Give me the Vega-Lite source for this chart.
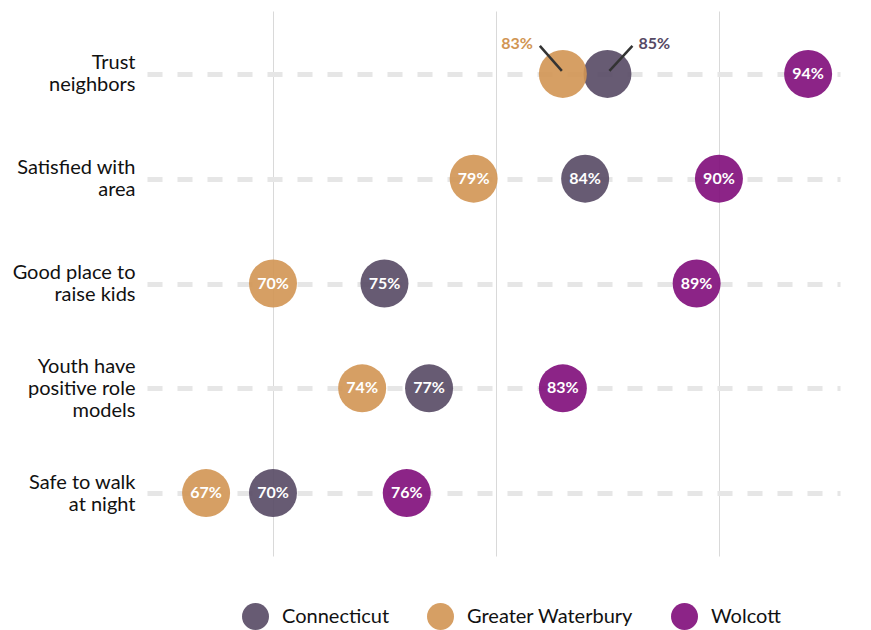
{
  "$schema": "https://vega.github.io/schema/vega-lite/v6.json",
  "width": 693,
  "height": 545,
  "autosize": {"type": "none"},
  "padding": {"left": 147, "top": 11, "right": 31, "bottom": 74},
  "background": "white",
  "config": {"view": {"stroke": null}, "font": "Lato"},
  "data": {
    "values": [
      {"q": "Trust neighbors", "group": "Connecticut", "value": 0.85},
      {"q": "Trust neighbors", "group": "Greater Waterbury", "value": 0.83},
      {"q": "Trust neighbors", "group": "Wolcott", "value": 0.94},
      {"q": "Satisfied with area", "group": "Connecticut", "value": 0.84},
      {"q": "Satisfied with area", "group": "Greater Waterbury", "value": 0.79},
      {"q": "Satisfied with area", "group": "Wolcott", "value": 0.90},
      {"q": "Good place to raise kids", "group": "Connecticut", "value": 0.75},
      {"q": "Good place to raise kids", "group": "Greater Waterbury", "value": 0.70},
      {"q": "Good place to raise kids", "group": "Wolcott", "value": 0.89},
      {"q": "Youth have positive role models", "group": "Connecticut", "value": 0.77},
      {"q": "Youth have positive role models", "group": "Greater Waterbury", "value": 0.74},
      {"q": "Youth have positive role models", "group": "Wolcott", "value": 0.83},
      {"q": "Safe to walk at night", "group": "Connecticut", "value": 0.70},
      {"q": "Safe to walk at night", "group": "Greater Waterbury", "value": 0.67},
      {"q": "Safe to walk at night", "group": "Wolcott", "value": 0.76}
    ]
  },
  "encoding": {
    "x": {
      "field": "value",
      "type": "quantitative",
      "scale": {"domain": [0.6435, 0.9543], "nice": false, "zero": false},
      "axis": {"values": [0.7, 0.8, 0.9], "labels": false, "ticks": false, "domain": false, "title": null, "grid": true, "gridColor": "#d9d9d9", "gridWidth": 1}
    },
    "y": {
      "field": "q",
      "type": "nominal",
      "sort": ["Trust neighbors", "Satisfied with area", "Good place to raise kids", "Youth have positive role models", "Safe to walk at night"],
      "scale": {"type": "point", "padding": 0.6},
      "axis": {
        "title": null,
        "domain": false,
        "ticks": false,
        "grid": true,
        "gridColor": "#e6e6e6",
        "gridWidth": 5,
        "gridDash": [15, 15],
        "labelFontSize": 20,
        "labelColor": "#111111",
        "labelPadding": 12,
        "labelLineHeight": 22,
        "labelBaseline": "middle",
        "labelOffset": {"condition": {"test": "datum.value == 'Youth have positive role models'", "value": -22}, "value": -11},
        "labelExpr": "datum.value == 'Trust neighbors' ? ['Trust','neighbors'] : datum.value == 'Satisfied with area' ? ['Satisfied with','area'] : datum.value == 'Good place to raise kids' ? ['Good place to','raise kids'] : datum.value == 'Youth have positive role models' ? ['Youth have','positive role','models'] : ['Safe to walk','at night']"
      }
    }
  },
  "layer": [
    {
      "mark": {"type": "point", "filled": true, "size": 2304, "opacity": 0.9},
      "encoding": {
        "color": {
          "field": "group",
          "type": "nominal",
          "scale": {"domain": ["Connecticut", "Greater Waterbury", "Wolcott"], "range": ["#564964", "#d19553", "#7f0c7a"]},
          "legend": {
            "title": null,
            "orient": "none",
            "legendX": 95,
            "legendY": 592,
            "direction": "horizontal",
            "symbolType": "circle",
            "symbolSize": 729,
            "symbolOpacity": 0.9,
            "symbolStrokeWidth": 0,
            "labelFontSize": 20,
            "labelLimit": 400,
            "labelColor": "#111111",
            "labelOffset": 13,
            "columnPadding": 37,
            "padding": 0
          }
        }
      }
    },
    {
      "transform": [{"filter": "!(datum.q === 'Trust neighbors' && datum.group !== 'Wolcott')"}],
      "mark": {"type": "text", "fontWeight": "bold", "fontSize": 16, "color": "white", "align": "center", "baseline": "middle"},
      "encoding": {"text": {"field": "value", "type": "quantitative", "format": ".0%"}}
    },
    {
      "transform": [{"filter": "datum.q === 'Trust neighbors' && datum.group === 'Greater Waterbury'"}],
      "mark": {"type": "rule", "xOffset": -1, "yOffset": -3, "x2Offset": -23, "y2Offset": -28, "strokeWidth": 2.5, "color": "#333333"},
      "encoding": {"x2": {"field": "value"}, "y2": {"field": "q"}}
    },
    {
      "transform": [{"filter": "datum.q === 'Trust neighbors' && datum.group === 'Connecticut'"}],
      "mark": {"type": "rule", "xOffset": 2, "yOffset": -3, "x2Offset": 25, "y2Offset": -28, "strokeWidth": 2.5, "color": "#333333"},
      "encoding": {"x2": {"field": "value"}, "y2": {"field": "q"}}
    },
    {
      "transform": [{"filter": "datum.q === 'Trust neighbors' && datum.group === 'Greater Waterbury'"}],
      "mark": {"type": "text", "fontWeight": "bold", "fontSize": 16, "align": "right", "baseline": "middle", "dx": -30, "dy": -30},
      "encoding": {
        "text": {"field": "value", "type": "quantitative", "format": ".0%"},
        "color": {"field": "group", "type": "nominal", "legend": null}
      }
    },
    {
      "transform": [{"filter": "datum.q === 'Trust neighbors' && datum.group === 'Connecticut'"}],
      "mark": {"type": "text", "fontWeight": "bold", "fontSize": 16, "align": "left", "baseline": "middle", "dx": 31, "dy": -30},
      "encoding": {
        "text": {"field": "value", "type": "quantitative", "format": ".0%"},
        "color": {"field": "group", "type": "nominal", "legend": null}
      }
    }
  ]
}
